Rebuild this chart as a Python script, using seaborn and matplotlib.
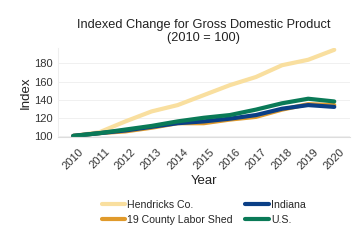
import matplotlib
matplotlib.use("Agg")
import matplotlib.pyplot as plt
import seaborn as sns
import pandas as pd

# Data
years = [2010, 2011, 2012, 2013, 2014, 2015, 2016, 2017, 2018, 2019, 2020]
hendricks = [100, 104, 116, 127, 134, 145, 156, 165, 178, 184, 195]
labor_shed = [100, 103, 105, 109, 114, 114, 118, 121, 129, 135, 134]
indiana = [100, 103, 106, 110, 114, 116, 119, 123, 130, 134, 132]
us = [100, 103, 107, 111, 116, 120, 123, 129, 136, 141, 138]

series_names = ["Hendricks Co.", "19 County Labor Shed", "Indiana", "U.S."]
colors = ["#F9DF9F", "#E09A2B", "#0B3F86", "#0A7A57"]

df = pd.DataFrame({"Year": years, "Hendricks Co.": hendricks,
                   "19 County Labor Shed": labor_shed, "Indiana": indiana, "U.S.": us})
long = df.melt(id_vars="Year", var_name="Area", value_name="Index")

sns.set_style("white")
plt.rcParams['font.family'] = ['Liberation Sans', 'DejaVu Sans']

fig, ax = plt.subplots(figsize=(3.6, 2.4), dpi=100)
sns.lineplot(data=long, x="Year", y="Index", hue="Area", hue_order=series_names,
             palette=colors, linewidth=3, ax=ax)

ax.set_xticks(years)
ax.set_xticklabels([str(y) for y in years], rotation=45, fontsize=8, color="#333333")
ax.set_yticks([100, 120, 140, 160, 180])
ax.tick_params(axis="y", labelsize=8, colors="#333333", length=0)
ax.tick_params(axis="x", length=4, color="#dddddd", pad=3)
ax.set_xlim(2009.4, 2020.6)
ax.set_ylim(99, 197)
ax.grid(axis="y", color="#eeeeee", linewidth=0.6)
for s in ["top", "right"]:
    ax.spines[s].set_visible(False)
ax.spines["left"].set_color("#eeeeee")
ax.spines["bottom"].set_color("#dddddd")
ax.set_xlabel("Year", fontsize=9.5, color="#222222", labelpad=3)
ax.set_ylabel("Index", fontsize=9.5, color="#222222", labelpad=2)
ax.set_title("Indexed Change for Gross Domestic Product\n(2010 = 100)",
             fontsize=9.2, color="#222222", pad=5, linespacing=1.1)

ax.legend(loc="upper center", bbox_to_anchor=(0.5, -0.6), ncol=2, frameon=False,
          fontsize=7.6, handlelength=2.2, handletextpad=0.2, columnspacing=1.2,
          labelspacing=0.5)

fig.subplots_adjust(left=0.16, right=0.972, top=0.8, bottom=0.43)
fig.savefig("out.png", dpi=100)
